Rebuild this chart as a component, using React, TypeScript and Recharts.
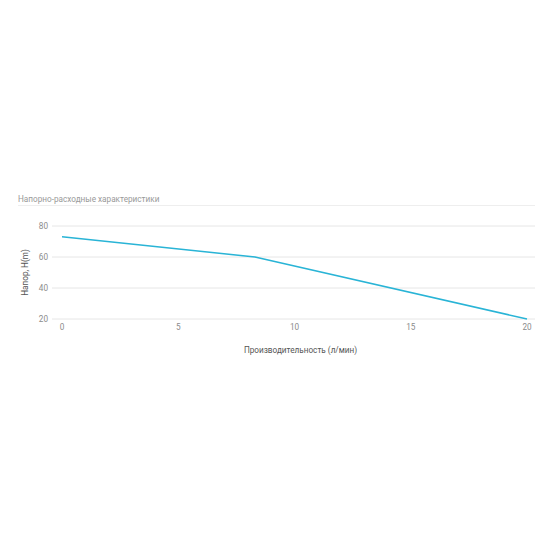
import { LineChart, Line, XAxis, YAxis, CartesianGrid } from "recharts";

const flow = [0, 8.3, 20];
const head = [73, 60, 20];
const xTicks = [0, 5, 10, 15, 20];
const yTicks = [20, 40, 60, 80];

const data = flow.map((q, i) => ({ q, h: head[i] }));

const YLabel = (props: any) => {
  const { viewBox } = props;
  const x = viewBox.x + 13;
  const y = viewBox.y + viewBox.height / 2;
  return (
    <text
      x={x}
      y={y}
      transform={`rotate(-90, ${x}, ${y})`}
      textAnchor="middle"
      dominantBaseline="central"
      fill="#555"
      fontSize={8.2}
    >
      Напор, H(m)
    </text>
  );
};

const App = () => {
  return (
    <div
      style={{
        position: "absolute",
        left: 0,
        top: 0,
        width: 550,
        height: 550,
        background: "#fff",
        fontFamily: "Roboto, sans-serif",
      }}
    >
      <div
        style={{
          position: "absolute",
          left: 18,
          top: 193,
          width: 517,
          height: 12,
          fontSize: 8.2,
          color: "#999",
          borderBottom: "1px solid #eeeeee",
          lineHeight: "12px",
        }}
      >
        Напорно-расходные характеристики
      </div>
      <div style={{ position: "absolute", left: 0, top: 210 }}>
        <LineChart
          width={550}
          height={160}
          data={data}
          margin={{ top: 16, right: 15, left: 12, bottom: 11 }}
        >
          <CartesianGrid vertical={false} stroke="#e6e6e6" />
          <XAxis
            dataKey="q"
            type="number"
            domain={[0, 20]}
            ticks={xTicks}
            padding={{ left: 10, right: 8 }}
            axisLine={false}
            tickLine={false}
            tickSize={5}
            tickMargin={0}
            height={40}
            tick={{ fontSize: 8.2, fill: "#8c8c8c" }}
            label={{
              value: "Производительность (л/мин)",
              position: "insideBottom",
              offset: 6,
              dx: 7,
              fontSize: 8.2,
              fill: "#555",
            }}
          />
          <YAxis
            type="number"
            domain={[20, 80]}
            ticks={yTicks}
            width={40}
            axisLine={false}
            tickLine={false}
            tickSize={2}
            tickMargin={2}
            tick={{ fontSize: 8.2, fill: "#8c8c8c" }}
            label={<YLabel />}
          />
          <Line
            dataKey="h"
            type="linear"
            stroke="#29b4d6"
            strokeWidth={1.5}
            dot={false}
            isAnimationActive={false}
          />
        </LineChart>
      </div>
    </div>
  );
};

export default App;
